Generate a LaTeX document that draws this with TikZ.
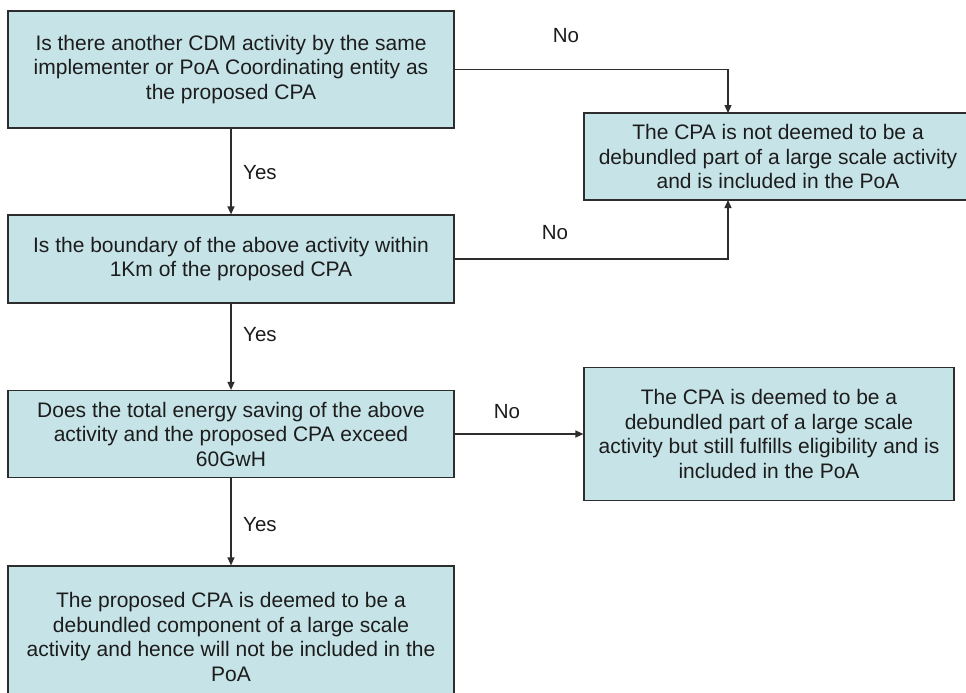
\documentclass[tikz,border=0pt]{standalone}
\usepackage{fontspec}
\setmainfont{Liberation Sans}
\usetikzlibrary{arrows.meta,calc}
\definecolor{boxfill}{RGB}{198,227,231}
\definecolor{edgecol}{RGB}{45,45,45}
\definecolor{txt}{RGB}{28,28,28}
\begin{document}
\begin{tikzpicture}[x=1pt,y=-1pt,
  box/.style={draw=edgecol,line width=1.2pt,fill=boxfill,align=center,
    font=\fontsize{21}{24.5}\selectfont,inner sep=0pt,text=txt},
  conn/.style={draw=edgecol,line width=1.2pt,-{Triangle[length=8pt,width=7pt]}},
  lbl/.style={font=\fontsize{20.5}{24}\selectfont,text=txt,inner sep=0pt}]
\clip (0,0) rectangle (966,693);
\useasboundingbox (0,0) rectangle (966,693);
\fill[white] (0,0) rectangle (966,693);

\node[box,minimum width=446pt,minimum height=117pt] (b1) at (231,69.5)
  {Is there another CDM activity by the same\\implementer or PoA Coordinating entity as\\the proposed CPA};
\node[box,minimum width=446pt,minimum height=88pt] (b2) at (231,259)
  {Is the boundary of the above activity within\\1Km of the proposed CPA};
\node[box,minimum width=446pt,minimum height=87pt] (b3) at (231,434)
  {Does the total energy saving of the above\\activity and the proposed CPA exceed\\60GwH};
\node[box,minimum width=446pt,minimum height=142pt] (b4) at (231,637)
  {The proposed CPA is deemed to be a\\debundled component of a large scale\\activity and hence will not be included in the\\PoA};
\node[box,minimum width=388pt,minimum height=87pt] (r1) at (778,156.5)
  {The CPA is not deemed to be a\\debundled part of a large scale activity\\and is included in the PoA};
\node[box,minimum width=370pt,minimum height=133pt] (r2) at (769,434)
  {The CPA is deemed to be a\\debundled part of a large scale\\activity but still fulfills eligibility and is\\included in the PoA};

\coordinate (jt) at (728,113);
\coordinate (jb) at (728,200);

\draw[conn] (b1) -- (b2);
\draw[conn] (b2) -- (b3);
\draw[conn] (b3) -- (b4);
\draw[conn] (b1.east) -| (jt);
\draw[conn] (b2.east) -| (jb);
\draw[conn] (b3.east) -- (r2.west);

\node[lbl,anchor=west] (y1) at (243,173) {Yes};
\node[lbl,anchor=west] (y2) at (243,335) {Yes};
\node[lbl,anchor=west] (y3) at (243,525) {Yes};
\node[lbl] (n1) at (566,36) {No};
\node[lbl] (n2) at (555,233) {No};
\node[lbl] (n3) at (507,412) {No};
\end{tikzpicture}
\end{document}
